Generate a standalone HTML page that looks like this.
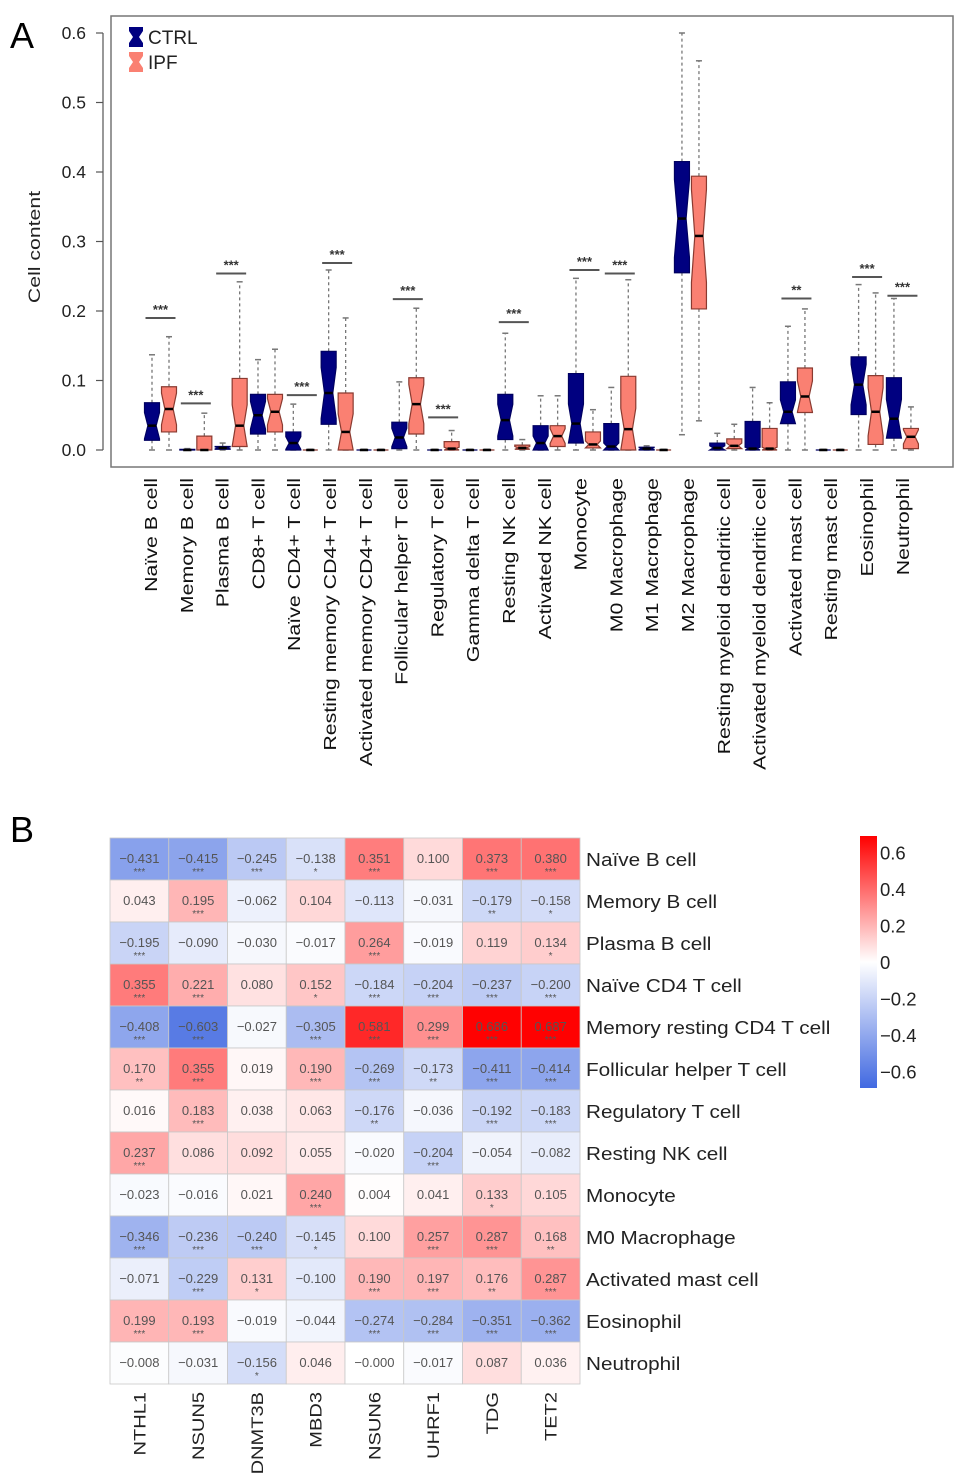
<!DOCTYPE html>
<html><head><meta charset="utf-8"><style>
html,body{margin:0;padding:0;background:#fff;}
svg{display:block;font-family:"Liberation Sans",sans-serif;}
</style></head><body>
<svg id="fig" width="969" height="1484" viewBox="0 0 969 1484">
<text x="10" y="48" font-size="36">A</text>
<text x="10" y="842" font-size="36">B</text>
<g id="boxplot"></g>
<g id="heatmap"></g>
</svg>
<script>
const cellTypes=["Naïve B cell","Memory B cell","Plasma B cell","CD8+ T cell","Naïve CD4+ T cell","Resting memory CD4+ T cell","Activated memory CD4+ T cell","Follicular helper T cell","Regulatory T cell","Gamma delta T cell","Resting NK cell","Activated NK cell","Monocyte","M0 Macrophage","M1 Macrophage","M2 Macrophage","Resting myeloid dendritic cell","Activated myeloid dendritic cell","Activated mast cell","Resting mast cell","Eosinophil","Neutrophil"];
// [min,q1,median,q3,max]
const ctrlStats=[[0,0.014,0.035,0.068,0.137],[0,0,0,0.001,0.002],[0,0.001,0.003,0.005,0.01],[0,0.023,0.05,0.08,0.13],[0,0,0.01,0.026,0.066],[0,0.037,0.082,0.142,0.259],[0,0,0,0,0.001],[0,0.002,0.018,0.04,0.098],[0,0,0,0,0.001],[0,0,0,0,0.001],[0,0.015,0.043,0.08,0.168],[0,0,0.01,0.035,0.078],[0,0.01,0.038,0.11,0.247],[0,0,0.005,0.038,0.09],[0,0,0.002,0.004,0.006],[0.022,0.255,0.333,0.415,0.6],[0,0,0.003,0.01,0.024],[0,0,0.002,0.041,0.09],[0,0.038,0.055,0.098,0.178],[0,0,0,0,0.001],[0,0.051,0.094,0.134,0.238],[0,0.017,0.045,0.104,0.218]];
const ipfStats=[[0,0.026,0.059,0.091,0.163],[0,0,0,0.02,0.053],[0,0.005,0.035,0.103,0.242],[0,0.026,0.055,0.08,0.145],[0,0,0,0,0.001],[0,0,0.026,0.082,0.19],[0,0,0,0,0.001],[0,0.023,0.066,0.104,0.204],[0,0,0.002,0.012,0.028],[0,0,0,0,0.001],[0,0.001,0.003,0.007,0.015],[0,0.005,0.02,0.035,0.078],[0,0.003,0.008,0.026,0.058],[0,0,0.03,0.106,0.245],[0,0,0,0,0.001],[0.042,0.203,0.308,0.394,0.56],[0,0.002,0.006,0.016,0.037],[0,0,0.002,0.031,0.068],[0,0.054,0.077,0.118,0.203],[0,0,0,0,0.001],[0,0.008,0.055,0.107,0.226],[0,0.002,0.019,0.031,0.062]];
const sigLabels=["***","***","***","","***","***","","***","***","","***","","***","***","","","","","**","","***","***"];
const sigHeights=[0.19,0.067,0.254,0,0.079,0.269,0,0.217,0.047,0,0.184,0,0.259,0.254,0,0,0,0,0.218,0,0.249,0.222];
const yTicks=[0,0.1,0.2,0.3,0.4,0.5,0.6];

const NS="http://www.w3.org/2000/svg";
function mk(tag,attrs,parent,text){const e=document.createElementNS(NS,tag);for(const k in attrs)e.setAttribute(k,attrs[k]);if(text!==undefined)e.textContent=text;parent.appendChild(e);return e;}
const bp=document.getElementById('boxplot');
const y0=450,yScale=695;
function Y(v){return y0-v*yScale;}
function X(i){return 160.5+35.33*i;}
function LX(i){return 151+35.8*i;}
let fr=mk('rect',{x:111,y:16,width:842,height:451,fill:'none',stroke:'#777','stroke-width':1.5},bp);


let ax=mk('line',{x1:103,y1:Y(0),x2:103,y2:Y(0.6),stroke:'#555','stroke-width':1.2},bp);


yTicks.forEach(t=>{
  let l=mk('line',{x1:96,y1:Y(t),x2:103,y2:Y(t),stroke:'#555','stroke-width':1.2},bp);
  
  
  let tx=mk('text',{x:86,y:Y(t)+6,'font-size':17.5,'text-anchor':'end',fill:'#222'},bp,t.toFixed(1));
  
  
});
let yt=mk('text',{x:0,y:0,'font-size':17,'text-anchor':'middle',fill:'#222',transform:'translate(40,247) rotate(-90) scale(1.25,1)'},bp,'Cell content');


function box(cx,s,fill,stroke){
  const g=mk('g',{},bp);
  const w=7.5;
  const [mn,q1,md,q3,mx]=s;
  const dash={stroke:'#777','stroke-width':1.3,'stroke-dasharray':'3,3'};
  mk('line',Object.assign({x1:cx,y1:Y(q3),x2:cx,y2:Y(mx)},dash),g);
  mk('line',Object.assign({x1:cx,y1:Y(q1),x2:cx,y2:Y(mn)},dash),g);
  mk('line',{x1:cx-3,y1:Y(mx),x2:cx+3,y2:Y(mx),stroke:'#777','stroke-width':1.5},g);
  mk('line',{x1:cx-3,y1:Y(mn),x2:cx+3,y2:Y(mn),stroke:'#777','stroke-width':1.5},g);
  const iqr=q3-q1,nh=Math.min(0.35*iqr,md-q1,q3-md);
  const ni=w*0.45;
  const pts=[[cx-w,Y(q3)],[cx+w,Y(q3)],[cx+w,Y(md+nh)],[cx+w-ni,Y(md)],[cx+w,Y(md-nh)],[cx+w,Y(q1)],[cx-w,Y(q1)],[cx-w,Y(md-nh)],[cx-w+ni,Y(md)],[cx-w,Y(md+nh)]];
  mk('polygon',{points:pts.map(p=>p.join(',')).join(' '),fill:fill,stroke:stroke,'stroke-width':1.2},g);
  mk('line',{x1:cx-w+ni,y1:Y(md),x2:cx+w-ni,y2:Y(md),stroke:'#000','stroke-width':2.5},g);
  return g;
}
cellTypes.forEach((c,i)=>{
  const a=box(X(i)-8.5,ctrlStats[i],'#000080','#000060');
  
  
  const b=box(X(i)+8.5,ipfStats[i],'#fa8072','#8a3a30');
  
  
  if(sigLabels[i]){
    const h=Y(sigHeights[i]);
    let sl=mk('line',{x1:X(i)-15,y1:h,x2:X(i)+15,y2:h,stroke:'#555','stroke-width':2},bp);
    
    
    let st=mk('text',{x:X(i),y:h-4,'font-size':13,'text-anchor':'middle',fill:'#333','font-weight':'bold'},bp,sigLabels[i]);
    
    
  }
  let xl=mk('text',{x:0,y:0,'font-size':17.5,'text-anchor':'end',fill:'#111',transform:`translate(${LX(i)+6},478) rotate(-90) scale(1.22,1)`},bp,c);
  
  
});
// legend
[['CTRL','#000080',37],['IPF','#fa8072',62]].forEach(([n,c,yy])=>{
  const g=mk('g',{},bp);
  
  
  mk('polygon',{points:`129,${yy-10} 143,${yy-10} 143,${yy-6} 139,${yy} 143,${yy+6} 143,${yy+10} 129,${yy+10} 129,${yy+6} 133,${yy} 129,${yy-6}`,fill:c},g);
  mk('text',{x:148,y:yy+7,'font-size':19,fill:'#222'},g,n);
});

// ---------- heatmap ----------
const genes=["NTHL1","NSUN5","DNMT3B","MBD3","NSUN6","UHRF1","TDG","TET2"];
const immuneCells=["Naïve B cell","Memory B cell","Plasma B cell","Naïve CD4 T cell","Memory resting CD4 T cell","Follicular helper T cell","Regulatory T cell","Resting NK cell","Monocyte","M0 Macrophage","Activated mast cell","Eosinophil","Neutrophil"];
const corrValues=[
[-0.431,-0.415,-0.245,-0.138,0.351,0.100,0.373,0.380],
[0.043,0.195,-0.062,0.104,-0.113,-0.031,-0.179,-0.158],
[-0.195,-0.090,-0.030,-0.017,0.264,-0.019,0.119,0.134],
[0.355,0.221,0.080,0.152,-0.184,-0.204,-0.237,-0.200],
[-0.408,-0.603,-0.027,-0.305,0.581,0.299,0.686,0.687],
[0.170,0.355,0.019,0.190,-0.269,-0.173,-0.411,-0.414],
[0.016,0.183,0.038,0.063,-0.176,-0.036,-0.192,-0.183],
[0.237,0.086,0.092,0.055,-0.020,-0.204,-0.054,-0.082],
[-0.023,-0.016,0.021,0.240,0.004,0.041,0.133,0.105],
[-0.346,-0.236,-0.240,-0.145,0.100,0.257,0.287,0.168],
[-0.071,-0.229,0.131,-0.100,0.190,0.197,0.176,0.287],
[0.199,0.193,-0.019,-0.044,-0.274,-0.284,-0.351,-0.362],
[-0.008,-0.031,-0.156,0.046,-0.000,-0.017,0.087,0.036]];
const corrStars=[
["***","***","***","*","***","","***","***"],
["","***","","","","","**","*"],
["***","","","","***","","","*"],
["***","***","","*","***","***","***","***"],
["***","***","","***","***","***","***","***"],
["**","***","","***","***","**","***","***"],
["","***","","","**","","***","***"],
["***","","","","","***","",""],
["","","","***","","","*",""],
["***","***","***","*","","***","***","**"],
["","***","*","","***","***","**","***"],
["***","***","","","***","***","***","***"],
["","","*","","","","",""]];
const legendTicks=[0.6,0.4,0.2,0,-0.2,-0.4,-0.6];

const hm=document.getElementById('heatmap');
const hx0=110,hy0=838,cw=58.75,ch=42,cmax=0.69;
function col(v){
  const t=Math.max(-1,Math.min(1,v/cmax));
  let r,g,b;
  if(t>=0){r=255;g=255*(1-t);b=255*(1-t);}
  else{const a=-t;r=255+(65-255)*a;g=255+(105-255)*a;b=255+(225-255)*a;}
  return `rgb(${r|0},${g|0},${b|0})`;
}
immuneCells.forEach((c,r)=>{
  genes.forEach((gname,k)=>{
    const v=corrValues[r][k];
    const x=hx0+k*cw,y=hy0+r*ch;
    let rc=mk('rect',{x:x,y:y,width:cw,height:ch,fill:col(v),stroke:'#c8c8c8','stroke-width':0.8},hm);
    
    
    const s=(v<0||Object.is(v,-0)?'−':'')+Math.abs(v).toFixed(3);
    let tv=mk('text',{x:x+cw/2,y:y+ch/2+4,'font-size':13,'text-anchor':'middle',fill:'#555'},hm,s);
    
    
    if(corrStars[r][k]){
      let ts=mk('text',{x:x+cw/2,y:y+ch/2+16,'font-size':10,'text-anchor':'middle',fill:'#555'},hm,corrStars[r][k]);
      
      
    }
  });
  let rl=mk('text',{x:0,y:0,'font-size':18.5,fill:'#222',transform:`translate(586,${hy0+r*ch+ch/2+7}) scale(1.12,1)`},hm,c);
  
  
});
genes.forEach((gname,k)=>{
  let cl=mk('text',{x:0,y:0,'font-size':17,'text-anchor':'end',fill:'#222',transform:`translate(${hx0+k*cw+cw/2+6},1392) rotate(-90) scale(1.18,1)`},hm,gname);
  
  
});
// color bar
const defs=mk('defs',{},hm);
const lg=mk('linearGradient',{id:'cb',x1:0,y1:0,x2:0,y2:1},defs);
mk('stop',{offset:'0%','stop-color':col(0.69)},lg);
mk('stop',{offset:'50%','stop-color':'#fff'},lg);
mk('stop',{offset:'100%','stop-color':col(-0.69)},lg);
const cbTop=836,cbBot=1088;
let cb=mk('rect',{x:860,y:cbTop,width:17,height:cbBot-cbTop,fill:'url(#cb)'},hm);


legendTicks.forEach(t=>{
  const y=(cbTop+cbBot)/2 - t*(cbBot-cbTop)/(2*cmax);
  let lt=mk('text',{x:880,y:y+7,'font-size':18.5,fill:'#222'},hm,(t<0?'−':'')+(t===0?'0':Math.abs(t).toFixed(1)));
  
  
});
</script>
</body></html>
